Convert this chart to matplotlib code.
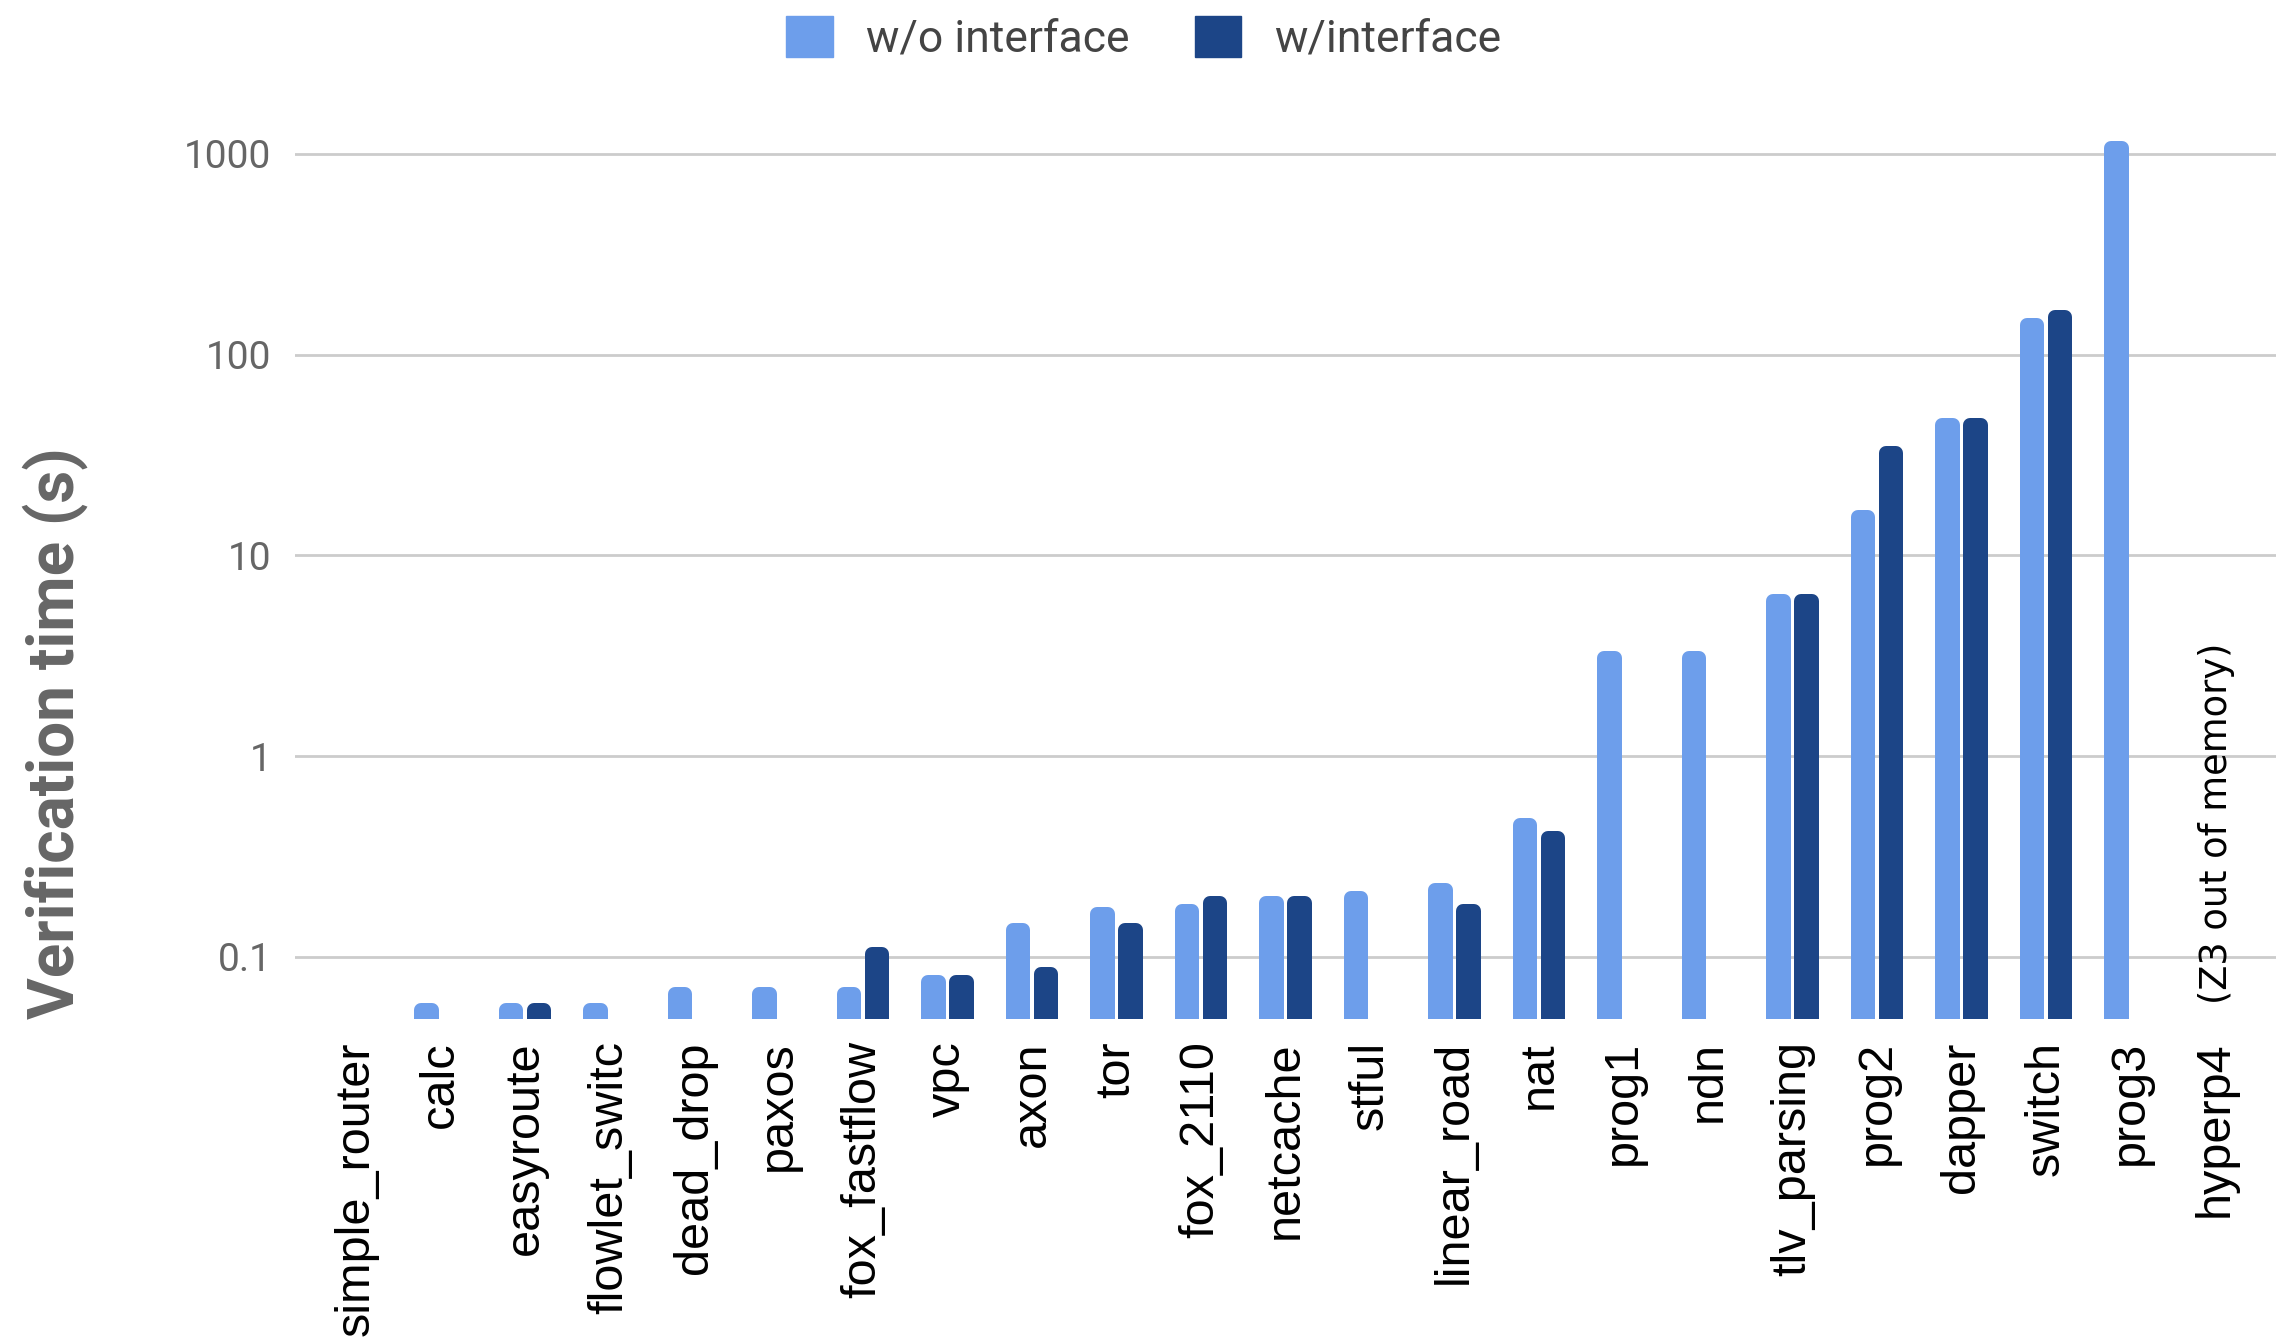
import matplotlib
matplotlib.use("Agg")
import matplotlib.pyplot as plt
import matplotlib.transforms as mtransforms
from matplotlib.patches import Patch
import numpy as np

# data (nan = no bar)
programs = ["simple_router", "calc", "easyroute", "flowlet_switc", "dead_drop",
            "paxos", "fox_fastflow", "vpc", "axon", "tor", "fox_2110",
            "netcache", "stful", "linear_road", "nat", "prog1", "ndn",
            "tlv_parsing", "prog2", "dapper", "switch", "prog3", "hyperp4"]
without_iface = [np.nan, 0.059, 0.059, 0.059, 0.071, 0.071, 0.071, 0.081,
                 0.148, 0.178, 0.183, 0.201, 0.213, 0.234, 0.49, 3.36, 3.36,
                 6.44, 16.9, 48.5, 153, 1164, np.nan]
with_iface = [np.nan, np.nan, 0.059, np.nan, np.nan, np.nan, 0.112, 0.081,
              0.089, 0.148, 0.201, 0.201, np.nan, 0.183, 0.426, np.nan, np.nan,
              6.44, 35.2, 48.5, 167, np.nan, np.nan]
ytick_vals = [0.1, 1, 10, 100, 1000]
ytick_labels = ["0.1", "1", "10", "100", "1000"]

light = "#6d9eeb"
dark = "#1c4587"
W, H = 2276, 1337
ymin, ymax = 0.0491, 1476

fig = plt.figure(figsize=(W / 100, H / 100), dpi=100)
ax = fig.add_axes([295 / W, 1 - 1019 / H, 1 - 295 / W, (1019 - 120) / H])
ax.set_yscale("log")

x = np.arange(len(programs))
wo = np.array(without_iface)
wi = np.array(with_iface)

# bars with rounded tops: a thick edge stroke with round joins,
# so the inner rectangle is narrower and a bit shorter
edge_px = 14
edge_pt = edge_px * 72 / 100
bw = 0.29 - edge_px / 84.5
shrink = 10 ** (-(edge_px / 2) / 200.8)
for vals, off, col in [(wo, -0.165, light), (wi, 0.165, dark)]:
    tops = vals * shrink
    ax.bar(x + off, tops - ymin, bw, bottom=ymin, color=col, edgecolor=col,
           linewidth=edge_pt, joinstyle="round", zorder=3)

ax.set_xlim(-0.722, 22.72)
ax.set_ylim(ymin, ymax)

# y axis
ax.set_yticks(ytick_vals)
ax.set_yticklabels(ytick_labels)
ax.yaxis.set_minor_locator(matplotlib.ticker.NullLocator())
for t in ax.get_yticklabels():
    t.set_fontfamily("Roboto")
    t.set_fontsize(28)
    t.set_color("#666666")
ax.tick_params(axis="y", length=0, pad=17)
ax.grid(axis="y", color="#cccccc", linewidth=2, zorder=0)

# x axis
ax.set_xticks(x)
ax.set_xticklabels(programs, rotation=90, fontfamily="Liberation Sans",
                   fontsize=35, color="black")
ax.tick_params(axis="x", length=0, pad=16)

for s in ax.spines.values():
    s.set_visible(False)

# note for hyperp4
trans = mtransforms.blended_transform_factory(ax.transData, ax.transAxes)
ax.text(22.02, 0.017, "(Z3 out of memory)", transform=trans, rotation=90,
        ha="center", va="bottom", fontsize=26.5, fontfamily="DejaVu Sans")

# y label
fig.text(55 / W, 1 - 733 / H, "Verification time (s)", rotation=90,
         ha="center", va="center", fontsize=46, fontweight="bold",
         color="#666666", fontfamily="Roboto")

# legend on top
handles = [Patch(color=light, label="w/o interface"),
           Patch(color=dark, label="w/interface")]
leg = fig.legend(handles=handles, loc="center", bbox_to_anchor=(0.5026, 1 - 38 / H),
                 ncol=2, frameon=False, handlelength=1.04, handleheight=1.04,
                 handletextpad=0.75, columnspacing=1.47,
                 prop={"family": "Roboto", "size": 32})
for t in leg.get_texts():
    t.set_color("#444444")

fig.savefig("out.png", dpi=100)
